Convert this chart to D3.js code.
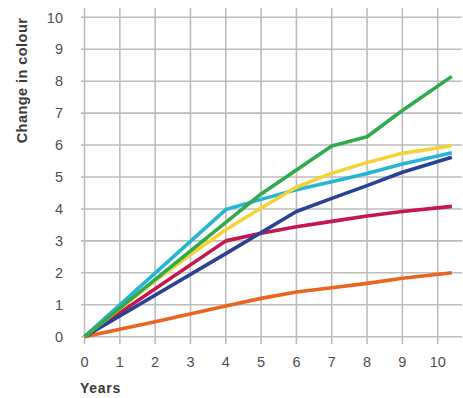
<!DOCTYPE html>
<html><head><meta charset="utf-8">
<script src="https://cdn.jsdelivr.net/npm/d3@7"></script>
<style>body{margin:0;background:#fff}svg{display:block}</style>
</head><body>
<svg id="c" width="463" height="398"></svg>
<script>
const xTicks = [0,1,2,3,4,5,6,7,8,9,10];
const yTicks = [0,1,2,3,4,5,6,7,8,9,10];
const seriesNames = ["orange","crimson","navy","cyan","yellow","green"];
const seriesColors = ["#e8661f","#c4174d","#2b4195","#27b5d6","#f6d235","#2fab4b"];
const orangeYears = [0,2,4,5,6,7,8,9,10.4];
const orangeValues = [0,0.47,0.96,1.2,1.4,1.53,1.67,1.83,2.0];
const crimsonYears = [0,4,5,6,7,8,9,10.4];
const crimsonValues = [0,3.0,3.24,3.44,3.61,3.78,3.92,4.08];
const navyYears = [0,4,6,7,8,9,10.4];
const navyValues = [0,2.6,3.92,4.33,4.73,5.15,5.62];
const cyanYears = [0,4,5,6,7,8,9,10.4];
const cyanValues = [0,3.98,4.3,4.6,4.85,5.11,5.41,5.76];
const yellowYears = [0,1,2,3,4,5,6,7,8,9,10.4];
const yellowValues = [0,0.88,1.75,2.57,3.35,4.03,4.68,5.12,5.45,5.74,5.98];
const greenYears = [0,5,7,8,9,10.4];
const greenValues = [0,4.47,5.97,6.26,7.08,8.15];

const allYears = [orangeYears,crimsonYears,navyYears,cyanYears,yellowYears,greenYears];
const allValues = [orangeValues,crimsonValues,navyValues,cyanValues,yellowValues,greenValues];

const svg = d3.select("#c");
const x = d3.scaleLinear().domain([0,10]).range([84.5,437.7]);
const y = d3.scaleLinear().domain([0,10]).range([336.7,17.3]);

const grid = svg.append("g").attr("stroke","#bdbdbd").attr("stroke-width",1.6);
grid.selectAll("line.v").data(xTicks).join("line").attr("class","v")
  .attr("x1",d=>x(d)).attr("x2",d=>x(d)).attr("y1",8).attr("y2",344);
grid.selectAll("line.h").data(yTicks).join("line").attr("class","h")
  .attr("y1",d=>y(d)).attr("y2",d=>y(d)).attr("x1",81).attr("x2",462);

const font = "'Liberation Sans', Arial, sans-serif";
svg.append("g").selectAll("text").data(yTicks).join("text")
  .attr("x",63).attr("y",d=>y(d)).attr("dy","0.36em").attr("text-anchor","end")
  .attr("font-family",font).attr("font-size",14.5).attr("fill","#505050").text(d=>d);
svg.append("g").selectAll("text").data(xTicks).join("text")
  .attr("x",d=>x(d)).attr("y",366.5).attr("text-anchor","middle")
  .attr("font-family",font).attr("font-size",14.5).attr("fill","#505050").text(d=>d);

svg.append("text").attr("transform","translate(26.5,80.5) rotate(-90)").attr("text-anchor","middle")
  .attr("font-family",font).attr("font-size",14.5).attr("font-weight","bold").attr("fill","#3a3a3a")
  .attr("letter-spacing",0.45).text("Change in colour");
svg.append("text").attr("x",80).attr("y",393).attr("font-family",font).attr("font-size",14)
  .attr("font-weight","bold").attr("fill","#3a3a3a").attr("letter-spacing",0.7).text("Years");

const line = d3.line().x(d=>x(d[0])).y(d=>y(d[1]));
seriesNames.forEach((n,i)=>{
  const pts = allYears[i].map((yr,j)=>[yr,allValues[i][j]]);
  svg.append("path").datum(pts).attr("d",line).attr("fill","none")
    .attr("stroke",seriesColors[i]).attr("stroke-width",3.6)
    .attr("stroke-linejoin","round").attr("stroke-linecap","butt");
});
</script>
</body></html>
